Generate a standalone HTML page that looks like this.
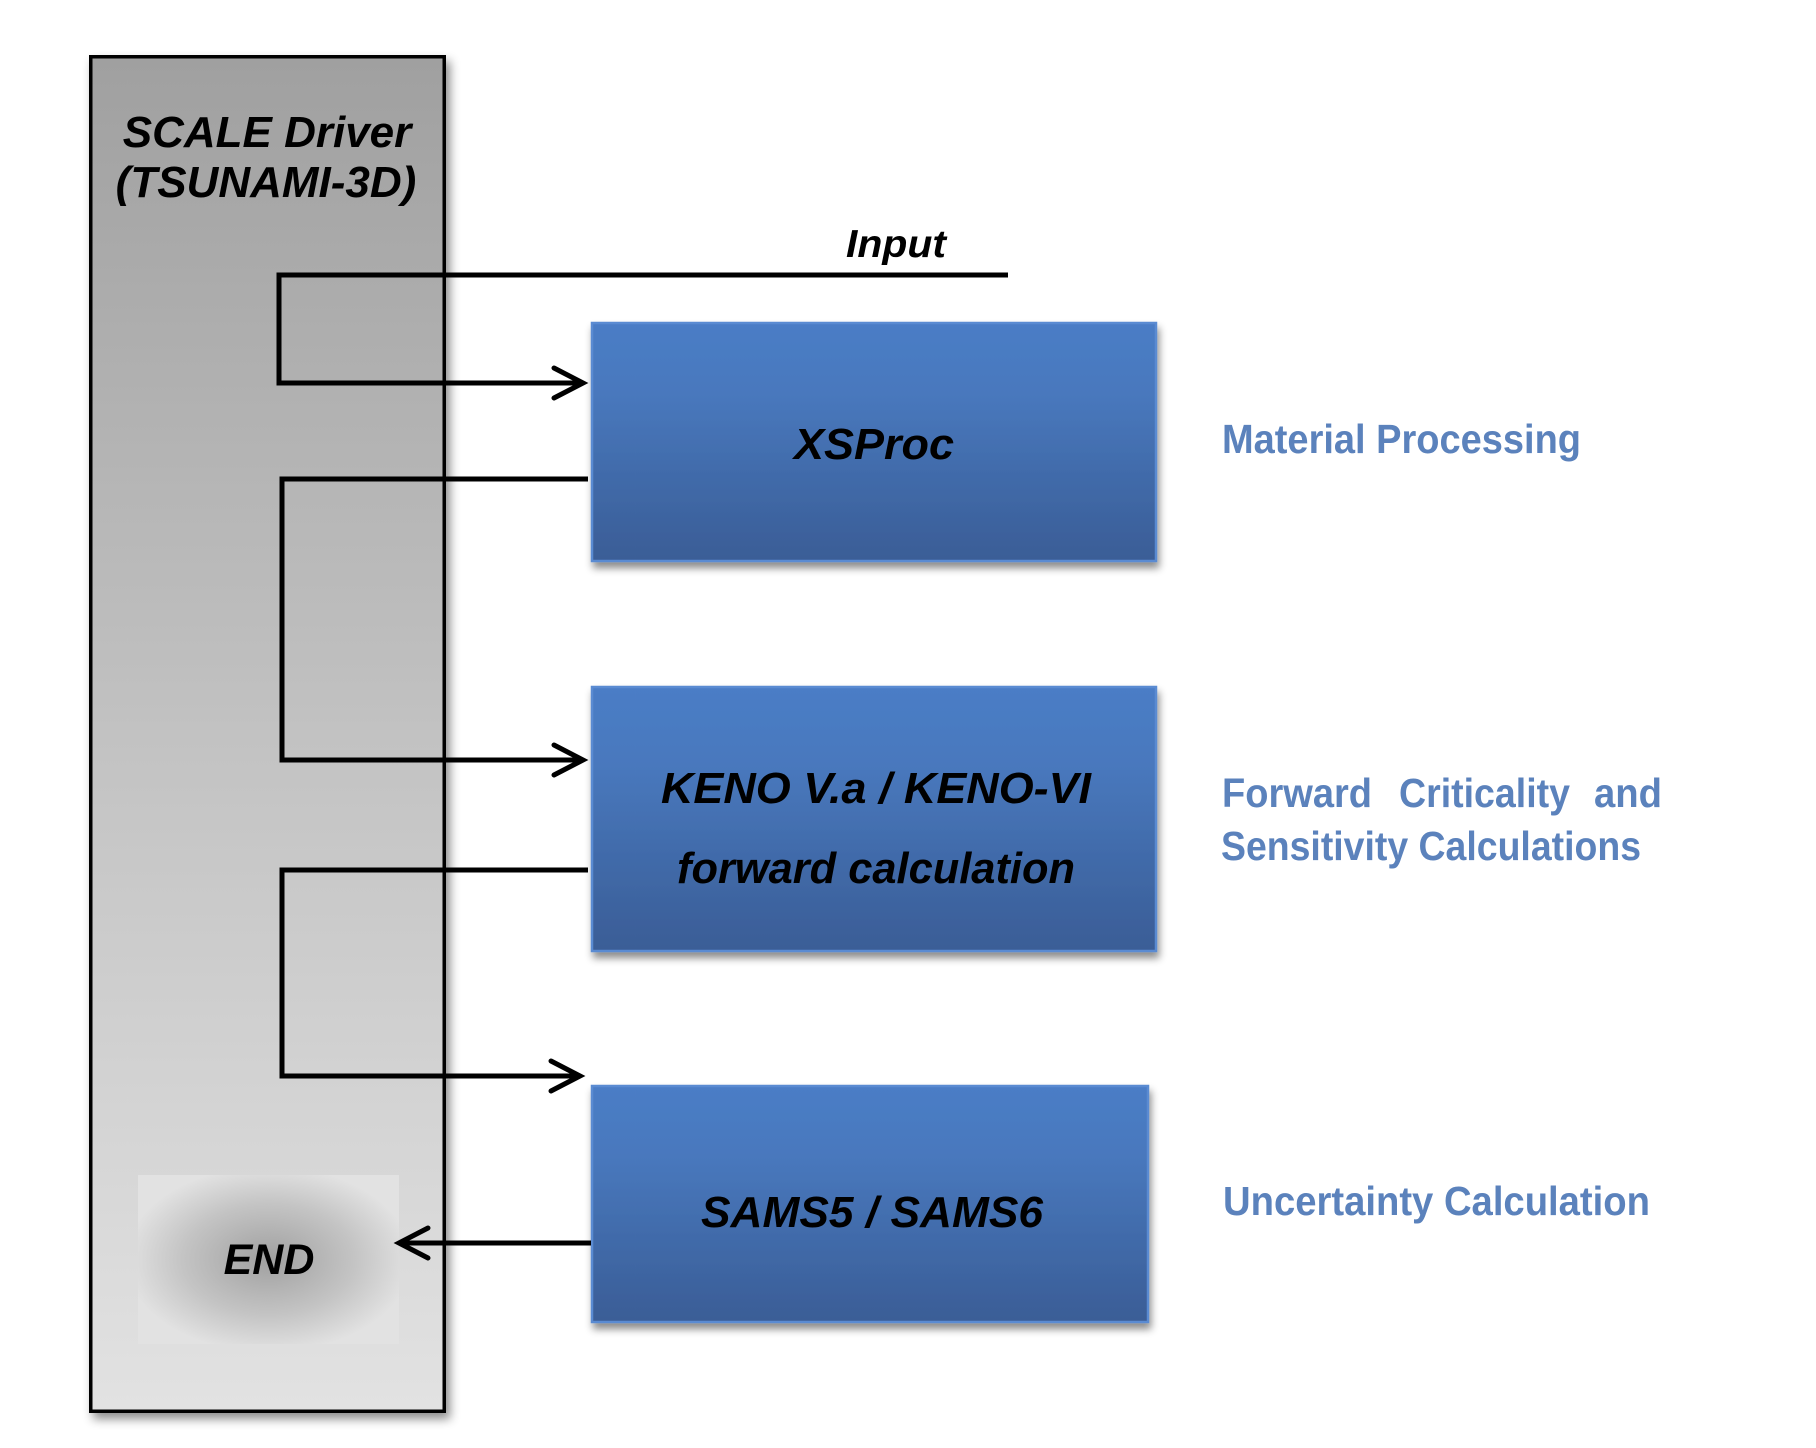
<!DOCTYPE html>
<html>
<head>
<meta charset="utf-8">
<style>
  html, body { margin: 0; padding: 0; background: #ffffff; }
  svg { display: block; }
  .bi { font-family: "Liberation Sans", Arial, sans-serif; font-weight: bold; font-style: italic; }
  .lbl { font-family: "Liberation Sans", Arial, sans-serif; font-weight: bold; fill: #5b82bc; font-size: 41px; }
</style>
</head>
<body>
<svg width="1816" height="1448" viewBox="0 0 1816 1448" xmlns="http://www.w3.org/2000/svg">
  <defs>
    <linearGradient id="gray" x1="0" y1="0" x2="0" y2="1">
      <stop offset="0" stop-color="#a0a0a0"/>
      <stop offset="0.5" stop-color="#c2c2c2"/>
      <stop offset="1" stop-color="#e2e2e2"/>
    </linearGradient>
    <linearGradient id="blue" x1="0" y1="0" x2="0" y2="1">
      <stop offset="0" stop-color="#4b7dc6"/>
      <stop offset="0.3" stop-color="#4878bd"/>
      <stop offset="1" stop-color="#3a5d96"/>
    </linearGradient>
    <radialGradient id="endg" cx="0.5" cy="0.5" r="0.55">
      <stop offset="0" stop-color="#a0a0a0"/>
      <stop offset="0.6" stop-color="#c4c4c4"/>
      <stop offset="1" stop-color="#e2e2e2"/>
    </radialGradient>
    <filter id="sh" x="-10%" y="-10%" width="130%" height="130%">
      <feDropShadow dx="4" dy="6" stdDeviation="5" flood-color="#000" flood-opacity="0.45"/>
    </filter>
    <filter id="shb" x="-10%" y="-10%" width="130%" height="140%">
      <feDropShadow dx="2" dy="6" stdDeviation="4" flood-color="#000" flood-opacity="0.45"/>
    </filter>
  </defs>

  <!-- Left driver box -->
  <rect x="90.75" y="56.75" width="353.5" height="1354.5" fill="url(#gray)" stroke="#000" stroke-width="3.5" filter="url(#sh)"/>
  <text class="bi" x="267" y="147" font-size="44" text-anchor="middle" fill="#000">SCALE Driver</text>
  <text class="bi" x="266" y="197" font-size="44" text-anchor="middle" fill="#000">(TSUNAMI-3D)</text>

  <!-- END box -->
  <rect x="138" y="1175" width="261" height="169" fill="url(#endg)"/>
  <text class="bi" x="269" y="1274" font-size="43" text-anchor="middle" fill="#000">END</text>

  <!-- Blue boxes -->
  <rect x="592" y="323" width="564" height="238" fill="url(#blue)" stroke="#5a8bd2" stroke-width="2.5" filter="url(#shb)"/>
  <rect x="592" y="687" width="564" height="264" fill="url(#blue)" stroke="#5a8bd2" stroke-width="2.5" filter="url(#shb)"/>
  <rect x="592" y="1086" width="556" height="236" fill="url(#blue)" stroke="#5a8bd2" stroke-width="2.5" filter="url(#shb)"/>

  <text class="bi" x="874" y="459" font-size="44" text-anchor="middle" fill="#000" textLength="160" lengthAdjust="spacingAndGlyphs">XSProc</text>
  <text class="bi" x="876" y="803" font-size="44" text-anchor="middle" fill="#000" textLength="430" lengthAdjust="spacingAndGlyphs">KENO V.a / KENO-VI</text>
  <text class="bi" x="876" y="883" font-size="44" text-anchor="middle" fill="#000" textLength="398" lengthAdjust="spacingAndGlyphs">forward calculation</text>
  <text class="bi" x="872" y="1227" font-size="44" text-anchor="middle" fill="#000" textLength="342" lengthAdjust="spacingAndGlyphs">SAMS5 / SAMS6</text>

  <!-- Input label -->
  <text class="bi" x="846" y="257" font-size="39" fill="#000" textLength="100" lengthAdjust="spacingAndGlyphs">Input</text>

  <!-- Connectors -->
  <g fill="none" stroke="#000" stroke-width="5">
    <path d="M1008 275 H279 V383 H582" stroke-linejoin="miter"/>
    <path d="M588 479 H282 V760 H582" stroke-linejoin="miter"/>
    <path d="M588 870 H282 V1076 H579" stroke-linejoin="miter"/>
    <path d="M591 1243 H400"/>
  </g>
  <g fill="none" stroke="#000" stroke-width="5" stroke-linecap="round" stroke-linejoin="miter">
    <path d="M554 368 L583 383 L554 398"/>
    <path d="M554 745 L583 760 L554 775"/>
    <path d="M551 1061 L580 1076 L551 1091"/>
    <path d="M428 1228 L399 1243 L428 1258"/>
  </g>

  <!-- Right labels -->
  <text class="lbl" x="1222" y="453" textLength="359" lengthAdjust="spacingAndGlyphs">Material Processing</text>

  <text class="lbl" x="1222" y="807" textLength="150" lengthAdjust="spacingAndGlyphs">Forward</text>
  <text class="lbl" x="1399" y="807" textLength="171" lengthAdjust="spacingAndGlyphs">Criticality</text>
  <text class="lbl" x="1594" y="807" textLength="68" lengthAdjust="spacingAndGlyphs">and</text>

  <text class="lbl" x="1221" y="860" textLength="420" lengthAdjust="spacingAndGlyphs">Sensitivity Calculations</text>

  <text class="lbl" x="1223" y="1215" textLength="427" lengthAdjust="spacingAndGlyphs">Uncertainty Calculation</text>
</svg>
</body>
</html>
